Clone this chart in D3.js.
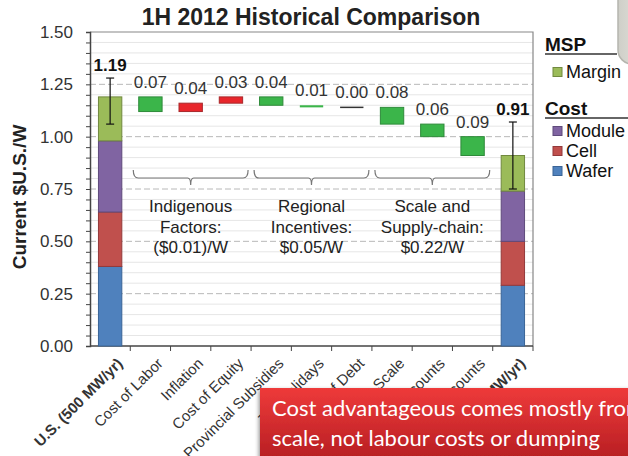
<!DOCTYPE html>
<html>
<head>
<meta charset="utf-8">
<script src="https://cdn.jsdelivr.net/npm/d3@7/dist/d3.min.js"></script>
<style>
  body { margin: 0; background: #fff; }
  svg { display: block; font-family: "Liberation Sans", Arial, sans-serif; }
</style>
</head>
<body>
<svg id="chart"></svg>
<script>
// chart values
var categories = ["U.S. (500 MW/yr)", "Cost of Labor", "Inflation", "Cost of Equity",
  "Provincial Subsidies", "Tax Holidays", "Cost of Debt", "Scale",
  "Equipment Discounts", "Materials Discounts", "China (2000 MW/yr)"];
var segments = ["Wafer", "Cell", "Module", "Margin"];
var usStack = [0.38, 0.26, 0.34, 0.21];
var chinaStack = [0.29, 0.21, 0.24, 0.17];
var usError = [1.06, 1.28];
var chinaError = [0.75, 1.07];
var totalLabels = ["1.19", "0.91"];
// waterfall steps (negative = saving)
var steps = [-0.07, 0.04, 0.03, -0.04, -0.01, 0.00, -0.08, -0.06, -0.09];
var stepLabels = ["0.07", "0.04", "0.03", "0.04", "0.01", "0.00", "0.08", "0.06", "0.09"];
var groups = [
  {from: 1, to: 3, lines: ["Indigenous", "Factors:", "($0.01)/W"]},
  {from: 4, to: 6, lines: ["Regional", "Incentives:", "$0.05/W"]},
  {from: 7, to: 9, lines: ["Scale and", "Supply-chain:", "$0.22/W"]}
];
var yTicks = [0, 0.25, 0.5, 0.75, 1.0, 1.25, 1.5];
var callout = ["Cost advantageous comes mostly from", "scale, not labour costs or dumping"];

var screen = {width: 628, height: 456};
var plot = {left: 90, right: 533, top: 32, bottom: 346};

var svg = d3.select("#chart").attr("width", screen.width).attr("height", screen.height);

var segColor = {Wafer: "#4f81bd", Cell: "#c0504d", Module: "#8064a2", Margin: "#9bbb59"};
var segStroke = {Wafer: "#3a6496", Cell: "#93393a", Module: "#5f4a7b", Margin: "#71893f"};

var x = d3.scaleBand().domain(categories).range([plot.left, plot.right])
  .paddingInner(0.42).paddingOuter(0.21);
var y = d3.scaleLinear().domain([0, 1.5]).range([plot.bottom, plot.top]);

// grid
var minor = d3.range(0, 1.5001, 0.05).filter(function(v){ return Math.abs(v*4 - Math.round(v*4)) > 0.001; });
svg.append("g").selectAll("line").data(minor).enter().append("line")
  .attr("x1", plot.left).attr("x2", plot.right)
  .attr("y1", function(d){ return y(d); }).attr("y2", function(d){ return y(d); })
  .style("stroke", "#e6e6e6").style("stroke-width", 1);
svg.append("g").selectAll("line").data(yTicks.slice(1, -1)).enter().append("line")
  .attr("x1", plot.left).attr("x2", plot.right)
  .attr("y1", function(d){ return y(d); }).attr("y2", function(d){ return y(d); })
  .style("stroke", "#b8b8b8").style("stroke-width", 1).style("stroke-dasharray", "6,3");

// frame
svg.append("path")
  .attr("d", "M" + plot.left + "," + plot.top + "H" + plot.right + "V" + plot.bottom)
  .style("fill", "none").style("stroke", "#888").style("stroke-width", 1.2);

// axes
var yAxis = svg.append("g").attr("transform", "translate(" + plot.left + ",0)")
  .call(d3.axisLeft(y).tickValues(yTicks).tickFormat(d3.format(".2f")).tickSize(4).tickPadding(13));
yAxis.select(".domain").style("stroke", "#444").style("stroke-width", 1.5);
yAxis.selectAll(".tick line").style("stroke", "#444");
yAxis.selectAll("text").style("font-size", "17px").style("fill", "#333")
  .style("font-family", "'Liberation Sans', Arial, sans-serif");
svg.append("g").attr("transform", "translate(" + plot.left + ",0)")
  .call(d3.axisLeft(y).tickValues(minor).tickFormat("").tickSize(4))
  .call(function(g){ g.select(".domain").remove(); g.selectAll("line").style("stroke", "#444"); });

svg.append("line").attr("x1", plot.left).attr("x2", plot.right)
  .attr("y1", plot.bottom).attr("y2", plot.bottom)
  .style("stroke", "#444").style("stroke-width", 1.5);
var gap = (x.step() - x.bandwidth()) / 2;
var bounds = categories.slice(1).map(function(c){ return x(c) - gap; }).concat([plot.right]);
svg.append("g").selectAll("line").data(bounds).enter().append("line")
  .attr("x1", function(d){ return d; }).attr("x2", function(d){ return d; })
  .attr("y1", plot.bottom).attr("y2", plot.bottom + 5)
  .style("stroke", "#444");

svg.append("g").selectAll("text").data(categories).enter().append("text")
  .attr("transform", function(d){
    return "translate(" + (x(d) + x.bandwidth()/2 + 6) + "," + (plot.bottom + 11) + ") rotate(-45)";
  })
  .attr("text-anchor", "end").attr("dy", "0.7em")
  .style("font-size", "15px").style("fill", "#333")
  .style("font-weight", function(d, i){ return (i == 0 || i == categories.length - 1) ? "bold" : "normal"; })
  .text(function(d){ return d; });

// y title
svg.append("text").attr("transform", "translate(26,197) rotate(-90)")
  .attr("text-anchor", "middle").style("font-size", "19px").style("font-weight", "bold")
  .style("fill", "#222").text("Current $U.S./W");

// title
svg.append("text").attr("x", 311).attr("y", 25).attr("text-anchor", "middle")
  .style("font-size", "23px").style("font-weight", "bold").style("fill", "#222")
  .text("1H 2012 Historical Comparison");

// stacked end bars
var drawStack = function(cat, vals, err, label){
  var base = 0;
  var rows = vals.map(function(v, i){ var r = {seg: segments[i], y0: base, y1: base + v}; base += v; return r; });
  svg.append("g").selectAll("rect").data(rows).enter().append("rect")
    .attr("x", x(cat)).attr("width", x.bandwidth())
    .attr("y", function(d){ return y(d.y1); })
    .attr("height", function(d){ return y(d.y0) - y(d.y1); })
    .style("fill", function(d){ return segColor[d.seg]; })
    .style("stroke", function(d){ return segStroke[d.seg]; }).style("stroke-width", 1);
  var cx = x(cat) + x.bandwidth()/2;
  svg.append("line").attr("x1", cx).attr("x2", cx).attr("y1", y(err[0])).attr("y2", y(err[1]))
    .style("stroke", "#111").style("stroke-width", 1.2);
  err.forEach(function(e){
    svg.append("line").attr("x1", cx - 4).attr("x2", cx + 4).attr("y1", y(e)).attr("y2", y(e))
      .style("stroke", "#111").style("stroke-width", 1.2);
  });
  svg.append("text").attr("x", cx).attr("y", y(err[1]) - 7).attr("text-anchor", "middle")
    .style("font-size", "17px").style("font-weight", "bold").style("fill", "#111").text(label);
};
drawStack(categories[0], usStack, usError, totalLabels[0]);
drawStack(categories[categories.length - 1], chinaStack, chinaError, totalLabels[1]);

// waterfall
var running = d3.sum(usStack);
var floats = steps.map(function(s, i){
  var start = running;
  running = running + s;
  return {cat: categories[i + 1], lo: Math.min(start, running), hi: Math.max(start, running), up: s > 0, zero: s == 0, label: stepLabels[i]};
});
var fg = svg.append("g");
floats.forEach(function(d){
  if (d.zero) {
    fg.append("line").attr("x1", x(d.cat)).attr("x2", x(d.cat) + x.bandwidth())
      .attr("y1", y(d.hi)).attr("y2", y(d.hi)).style("stroke", "#333").style("stroke-width", 1.5);
  } else {
    var h = Math.max(2, y(d.lo) - y(d.hi));
    fg.append("rect").attr("x", x(d.cat)).attr("width", x.bandwidth())
      .attr("y", y(d.hi)).attr("height", h)
      .style("fill", d.up ? "#e8262b" : "#3bb54a")
      .style("stroke", d.up ? "#a8282b" : "#2f8a3a").style("stroke-width", h > 3 ? 1 : 0);
  }
  fg.append("text").attr("x", x(d.cat) + x.bandwidth()/2).attr("y", y(d.hi) - 9)
    .attr("text-anchor", "middle").style("font-size", "17px").style("fill", "#333").text(d.label);
});

// braces
groups.forEach(function(g){
  var x0 = x(categories[g.from]) - gap + 3;
  var x1 = x(categories[g.to]) + x.bandwidth() + gap - 3;
  var mid = (x0 + x1) / 2;
  var t = 170, b = 178;
  svg.append("path")
    .attr("d", "M" + x0 + "," + t + "Q" + x0 + "," + b + " " + (x0 + 5) + "," + b +
      "H" + (mid - 3) + "Q" + mid + "," + b + " " + mid + "," + (b + 7) +
      "Q" + mid + "," + b + " " + (mid + 3) + "," + b + "H" + (x1 - 5) +
      "Q" + x1 + "," + b + " " + x1 + "," + t)
    .style("fill", "none").style("stroke", "#777").style("stroke-width", 1.2);
  svg.append("text").attr("text-anchor", "middle").style("font-size", "17px").style("fill", "#222")
    .selectAll("tspan").data(g.lines).enter().append("tspan")
    .attr("x", mid).attr("y", function(d, i){ return 212 + i * 20.5; })
    .text(function(d){ return d; });
});

// legend
var leg = svg.append("g").style("fill", "#111");
var heading = function(txt, yb, x2){
  leg.append("text").attr("x", 545).attr("y", yb).style("font-size", "19px").style("font-weight", "bold").text(txt);
  leg.append("line").attr("x1", 545).attr("x2", x2).attr("y1", yb + 3).attr("y2", yb + 3)
    .style("stroke", "#333").style("stroke-width", 1.5);
};
heading("MSP", 51, 617);
heading("Cost", 115, 628);
var legItems = [{seg: "Margin", cy: 72}, {seg: "Module", cy: 131}, {seg: "Cell", cy: 151}, {seg: "Wafer", cy: 171}];
legItems.forEach(function(d){
  leg.append("rect").attr("x", 553).attr("y", d.cy - 4.5).attr("width", 9).attr("height", 9)
    .style("fill", segColor[d.seg]).style("stroke", segStroke[d.seg]);
  leg.append("text").attr("x", 566).attr("y", d.cy).attr("dy", "0.36em").style("font-size", "18px").text(d.seg);
});

// grey frame edge at top right
var defs = svg.append("defs");
var fgrad = defs.append("linearGradient").attr("id", "frame").attr("x1", 0).attr("x2", 1);
fgrad.append("stop").attr("offset", 0).attr("stop-color", "#cfcfc8");
fgrad.append("stop").attr("offset", 1).attr("stop-color", "#ecece6");
svg.append("rect").attr("x", 618).attr("y", -30).attr("width", 40).attr("height", 94).attr("rx", 14)
  .style("fill", "url(#frame)").style("stroke", "#b5b5ae").style("stroke-width", 1.5);

// red callout (runs past the right edge, as in the slide)
var rgrad = defs.append("linearGradient").attr("id", "red").attr("x1", 0).attr("x2", 0).attr("y1", 0).attr("y2", 1);
rgrad.append("stop").attr("offset", 0).attr("stop-color", "#ee3a3a");
rgrad.append("stop").attr("offset", 1).attr("stop-color", "#b01b20");
var sh = defs.append("filter").attr("id", "shadow").attr("x", -0.1).attr("y", -0.2).attr("width", 1.3).attr("height", 1.5);
sh.append("feDropShadow").attr("dx", -1).attr("dy", 2).attr("stdDeviation", 2).attr("flood-color", "#000").attr("flood-opacity", 0.45);
svg.append("rect").attr("x", 260).attr("y", 388).attr("width", 380).attr("height", 80)
  .style("fill", "url(#red)").attr("filter", "url(#shadow)");
svg.append("text").style("font-family", "Lato, 'Open Sans', sans-serif").style("font-size", "22px").style("fill", "#fff")
  .selectAll("tspan").data(callout).enter()
  .append("tspan").attr("x", 272).attr("y", function(d, i){ return 416 + i * 30; })
  .text(function(d){ return d; });
</script>
</body>
</html>
